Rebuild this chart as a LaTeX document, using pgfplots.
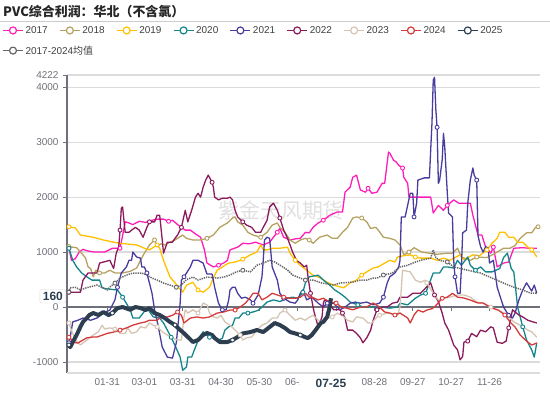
\documentclass[border=0pt]{standalone}
\usepackage{fontspec}
\setmainfont{Liberation Sans}
\newfontfamily\cjk{Noto Sans CJK SC}
\usepackage{pgfplots}
\pgfplotsset{compat=1.18}
\definecolor{c17}{HTML}{FF1DB8}
\definecolor{c18}{HTML}{B5A160}
\definecolor{c19}{HTML}{FFC000}
\definecolor{c20}{HTML}{14868C}
\definecolor{c21}{HTML}{483D9E}
\definecolor{c22}{HTML}{8B1A5C}
\definecolor{c23}{HTML}{D5C4B2}
\definecolor{c24}{HTML}{D63B3B}
\definecolor{c25}{HTML}{2C3E50}
\definecolor{cavg}{HTML}{666666}
\definecolor{axisgray}{HTML}{6E7079}
\definecolor{gridgray}{HTML}{DCDCDC}
\begin{document}
\begin{tikzpicture}
\useasboundingbox (0,0) rectangle (550bp,396bp);
\node[anchor=west, inner sep=0, text=black!85, font=\cjk\bfseries\fontsize{13}{15}\selectfont] at (3bp,384bp) {PVC综合利润：华北（不含氯）};
\draw[black!20, line width=1bp] (0,374bp) -- (550bp,374bp);
\begin{axis}[
  at={(67bp,23bp)}, anchor=south west, scale only axis,
  width=473bp, height=298bp,
  xmin=-1.5, xmax=368.5, ymin=-1200, ymax=4222,
  axis y line*=left, axis x line*=middle,
  hide obscured x ticks=false, hide obscured y ticks=false,
  axis line style={axisgray, line width=1.1bp},
  tick align=outside, major tick length=4bp,
  tick style={axisgray, line width=1bp},
  ytick={-1000,0,1000,2000,3000,4000,4222},
  yticklabels={-1000,0,1000,2000,3000,4000,4222},
  xtick={30,59,89,119,149,179,209,239,269,299,329},
  xticklabels={01-31,03-01,03-31,04-30,05-30,06-29,{},08-28,09-27,10-27,11-26},
  xticklabel style={yshift=-64bp, font=\fontsize{10}{12}\selectfont, text=axisgray},
  yticklabel style={font=\fontsize{10}{12}\selectfont, text=axisgray, xshift=-1bp},
  ymajorgrids, grid style={gridgray, line width=1.2bp},
  clip=false,
  legend columns=9,
  legend cell align=left,
  legend style={at={(axis description cs:-0.137,1.171)}, anchor=north west, draw=none, fill=none,
    font=\fontsize{10}{12}\selectfont, text=black!75, inner sep=0pt,
    /tikz/every even column/.append style={column sep=9.5bp}, row sep=7bp},
  legend image code/.code={%
    \draw[#1, line width=1.2bp, solid, mark=none] (0bp,0bp) -- (6.5bp,0bp);
    \draw[#1, line width=1.2bp, solid, mark=none] (13.5bp,0bp) -- (20bp,0bp);
    \draw[#1, line width=1.2bp, solid, mark=none, fill=white] (10bp,0bp) circle (3.5bp);},
  every axis plot/.append style={line width=1.3bp, line join=round, mark=*, mark size=2bp},
]
\draw[gridgray, line width=1.2bp] (rel axis cs:0,0) -- (rel axis cs:1,0);
\node[text=black!12, font=\cjk\fontsize{21}{23}\selectfont] at (axis cs:166,1764) {紫金天风期货};

\addplot[c17, mark repeat=10, mark options={fill=white, draw=c17, line width=0.9bp}] coordinates {
(0,1080)(1,960)(2,850)(5,880)(8,1000)(11,1050)(15,1020)(20,1000)(28,1000)(34,1070)(40,1070)(42,1300)(44,1550)(47,1530)(50,1500)(55,1560)(60,1540)(65,1580)(70,1600)(74,1600)(78,1560)(81,1580)(85,1500)(91,1400)(95,1400)(99,1330)(103,1270)(106,1040)(108,800)(113,730)(117,760)(121,800)(124,850)(126,1040)(132,1090)(136,1160)(141,1150)(146,1180)(152,1130)(157,1180)(163,1360)(165,1430)(168,1270)(173,1220)(177,1240)(181,1250)(185,1360)(188,1350)(191,1450)(195,1530)(199,1580)(204,1670)(210,1730)(214,1730)(216,2090)(220,2180)(222,2360)(225,2400)(228,2130)(232,2090)(234,2160)(237,2070)(241,2090)(245,2250)(247,2250)(250,2820)(251,2800)(254,2670)(256,2640)(258,2580)(261,2530)(262,2360)(265,2250)(266,2000)(272,2000)(279,2000)(283,2000)(285,1710)(289,1850)(293,1760)(296,1850)(301,1950)(305,1890)(309,1890)(314,1890)(316,1670)(320,1310)(323,1310)(326,1090)(330,980)(332,1090)(335,730)(340,800)(344,820)(348,1070)(355,1080)(360,1070)(366,1070)};
\addlegendentry{2017}

\addplot[c18, mark repeat=10, mark options={fill=white, draw=c18, line width=0.9bp}] coordinates {
(0,1100)(3,1090)(6,1080)(9,1000)(11,950)(13,890)(15,730)(17,700)(19,550)(21,670)(24,620)(28,620)(32,670)(36,620)(42,620)(48,650)(53,710)(56,850)(59,980)(63,1130)(67,1220)(69,1100)(72,1150)(75,1130)(79,1180)(83,1220)(89,1310)(92,1250)(97,1220)(103,1220)(108,1250)(113,1310)(118,1450)(124,1530)(128,1620)(130,1640)(132,1550)(136,1490)(140,1360)(144,1310)(150,1270)(155,1360)(159,1490)(163,1530)(165,1450)(169,1360)(173,1220)(177,1160)(181,1220)(185,1250)(188,1220)(191,1160)(196,1270)(202,1310)(206,1250)(210,1250)(214,1360)(218,1450)(222,1620)(225,1640)(229,1620)(233,1550)(236,1430)(240,1450)(242,1400)(246,1270)(251,1250)(255,1220)(259,1130)(262,950)(266,1000)(270,1080)(276,1000)(282,980)(288,960)(296,980)(300,980)(304,1070)(307,910)(314,850)(319,910)(327,900)(332,960)(340,1070)(345,1070)(349,1120)(353,1250)(358,1350)(362,1350)(365,1450)(367,1460)};
\addlegendentry{2018}

\addplot[c19, mark repeat=10, mark options={fill=white, draw=c19, line width=0.9bp}] coordinates {
(0,1460)(5,1440)(9,1310)(19,1270)(27,1220)(35,1180)(40,1160)(53,1130)(59,1070)(63,1040)(69,1130)(71,1070)(74,850)(77,670)(79,550)(83,440)(86,350)(89,270)(92,400)(97,450)(101,310)(105,270)(110,360)(113,530)(116,670)(119,710)(122,760)(125,800)(130,820)(134,850)(136,870)(142,950)(147,1000)(150,1130)(152,1040)(155,1040)(159,1070)(165,1070)(171,1090)(173,980)(177,850)(181,760)(186,670)(191,580)(197,530)(202,450)(207,400)(215,350)(220,440)(225,490)(229,580)(233,640)(238,710)(242,730)(247,800)(251,850)(255,820)(257,910)(261,930)(267,950)(271,910)(275,890)(283,890)(288,850)(293,890)(298,850)(306,950)(309,860)(316,950)(321,930)(327,1040)(331,1160)(335,1250)(337,1360)(341,1360)(344,1270)(348,1270)(351,1180)(355,1180)(359,1090)(362,1040)(364,980)(366,910)};
\addlegendentry{2019}

\addplot[c20, mark repeat=10, mark options={fill=white, draw=c20, line width=0.9bp}] coordinates {
(0,1070)(3,850)(6,730)(10,620)(14,550)(18,490)(24,490)(26,350)(30,330)(38,310)(42,180)(48,-50)(50,-200)(55,-200)(60,-50)(62,-50)(66,-180)(71,-200)(74,-290)(77,-420)(80,-550)(84,-750)(87,-910)(89,-1150)(92,-1090)(93,-910)(96,-910)(99,-730)(102,-550)(105,-450)(110,-550)(113,-550)(117,-600)(120,-570)(122,-420)(125,-360)(128,-330)(130,-200)(133,-200)(136,-110)(140,-110)(144,-90)(148,-60)(151,0)(155,90)(160,130)(165,100)(171,160)(175,180)(179,160)(183,270)(185,440)(188,550)(195,580)(199,490)(204,400)(208,310)(212,250)(216,180)(220,90)(226,40)(230,0)(236,0)(244,0)(251,-20)(257,0)(259,70)(265,40)(271,160)(275,218)(279,250)(285,620)(290,620)(293,730)(296,730)(301,710)(304,850)(307,760)(312,910)(314,760)(318,670)(322,730)(326,640)(331,640)(337,700)(340,900)(343,980)(346,700)(348,640)(351,0)(355,-360)(358,-600)(362,-780)(364,-910)(366,-650)};
\addlegendentry{2020}

\addplot[c21, mark repeat=10, mark options={fill=white, draw=c21, line width=0.9bp}] coordinates {
(0,-650)(1,-550)(3,-270)(7,-240)(11,-200)(17,-240)(22,-200)(27,-110)(32,-55)(36,130)(38,360)(41,620)(45,730)(47,850)(49,850)(50,1000)(53,910)(56,890)(57,730)(59,730)(61,620)(65,250)(67,-50)(70,-360)(73,-730)(77,-910)(81,-930)(84,-650)(87,70)(88,490)(90,550)(92,620)(95,730)(97,850)(101,850)(105,800)(108,600)(112,600)(114,360)(117,70)(120,-50)(123,-50)(125,130)(126,310)(128,360)(130,360)(132,250)(135,160)(138,180)(142,130)(144,70)(148,220)(151,550)(152,850)(153,1220)(155,1270)(157,1250)(159,730)(163,490)(165,250)(168,160)(173,90)(177,70)(179,130)(181,250)(183,310)(186,130)(190,180)(195,70)(199,0)(202,70)(207,70)(212,-50)(216,0)(220,70)(224,90)(228,70)(233,90)(238,40)(243,70)(246,180)(249,440)(251,550)(255,620)(258,730)(259,850)(260,1640)(263,1640)(267,2070)(269,2070)(270,1640)(272,1890)(273,2310)(278,2350)(282,2350)(283,2860)(284,3350)(285,4130)(286,4180)(287,3600)(288,3270)(289,2250)(290,2310)(292,2680)(293,3160)(294,2910)(296,2070)(297,1710)(300,1640)(301,850)(302,550)(304,250)(306,250)(307,700)(308,1350)(311,1400)(312,1890)(314,2310)(316,2530)(317,2400)(319,2310)(320,1300)(322,1100)(324,1000)(326,1100)(328,1070)(329,800)(332,850)(335,360)(340,0)(344,-150)(347,-200)(349,-110)(352,130)(355,310)(358,440)(362,290)(364,400)(366,250)};
\addlegendentry{2021}

\addplot[c22, mark repeat=10, mark options={fill=white, draw=c22, line width=0.9bp}] coordinates {
(0,270)(9,270)(11,490)(15,620)(22,620)(24,800)(32,850)(35,700)(37,980)(39,1100)(40,1400)(41,1800)(42,1820)(44,1360)(47,1360)(49,1400)(52,1450)(55,1400)(58,1270)(61,1450)(63,1550)(67,1550)(69,1670)(71,1670)(73,1220)(74,980)(77,1180)(81,1180)(83,1250)(85,1310)(88,1450)(91,1760)(93,1550)(96,1760)(99,2000)(101,2070)(103,2000)(105,2180)(107,2310)(109,2400)(112,2270)(113,2180)(114,2000)(117,1950)(120,1980)(124,1980)(126,2000)(128,1950)(130,1760)(132,1640)(136,1550)(139,1490)(143,1450)(146,1360)(150,1360)(152,1450)(155,1580)(157,1820)(160,1890)(163,1760)(165,1620)(168,1400)(171,1250)(173,1130)(175,1000)(178,850)(181,800)(184,730)(186,760)(187,550)(189,250)(191,0)(192,-110)(195,-360)(198,-180)(199,70)(200,130)(203,110)(207,-50)(212,-50)(214,-110)(216,-200)(218,-420)(222,-420)(225,-480)(228,-560)(230,-650)(233,-560)(236,-420)(238,-240)(241,-50)(245,0)(249,0)(253,70)(257,90)(259,180)(265,180)(269,250)(275,250)(283,440)(286,220)(289,100)(292,-110)(294,-290)(297,-420)(301,-690)(304,-780)(306,-960)(308,-900)(309,-640)(312,-620)(315,-480)(319,-540)(322,-420)(326,-450)(330,-360)(332,-380)(335,-640)(339,-660)(342,-620)(344,-380)(347,-50)(349,-90)(352,-145)(355,-180)(359,-240)(363,-270)(366,-290)};
\addlegendentry{2022}

\addplot[c23, mark repeat=10, mark options={fill=white, draw=c23, line width=0.9bp}] coordinates {
(0,-290)(1,-360)(5,-600)(9,-690)(14,-600)(19,-510)(23,-450)(26,-330)(28,-400)(32,-380)(36,-400)(40,-480)(44,-480)(46,-380)(49,-480)(53,-450)(56,-360)(60,-380)(63,-290)(66,-330)(69,-360)(73,-450)(77,-510)(81,-560)(85,-600)(88,-600)(90,-180)(91,-50)(93,-110)(97,-50)(101,-110)(105,73)(108,40)(110,-110)(113,-180)(116,-200)(119,-150)(122,-270)(126,-330)(130,-420)(134,-510)(136,-600)(139,-560)(143,-545)(147,-420)(151,-330)(155,-290)(159,-200)(163,-200)(165,-110)(169,-55)(173,-150)(177,-240)(181,-200)(185,-240)(187,-200)(191,-150)(195,-240)(199,-290)(202,-200)(206,-180)(210,-110)(214,-160)(218,-240)(222,-270)(225,-180)(230,-200)(234,-290)(237,-290)(241,-180)(243,-150)(249,-110)(254,-130)(257,-150)(259,0)(261,670)(267,640)(271,490)(275,450)(279,490)(280,440)(285,250)(289,130)(293,160)(298,180)(304,220)(309,220)(314,180)(319,90)(324,70)(330,0)(335,-50)(340,-110)(344,-180)(348,-270)(353,-330)(359,-420)(362,-450)(366,-550)};
\addlegendentry{2023}

\addplot[c24, mark repeat=10, mark options={fill=white, draw=c24, line width=0.9bp}] coordinates {
(0,-550)(1,-560)(3,-640)(7,-655)(11,-600)(14,-560)(19,-545)(22,-545)(30,-480)(35,-455)(40,-420)(45,-380)(50,-330)(56,-290)(60,-270)(63,-240)(69,-240)(71,-200)(77,-180)(81,-150)(85,-90)(88,-150)(90,-290)(95,-200)(100,-180)(105,-200)(110,-180)(116,-110)(121,-90)(126,-55)(130,-55)(134,0)(138,70)(142,180)(144,250)(148,250)(151,130)(155,180)(159,250)(163,220)(168,180)(173,160)(177,160)(181,180)(185,250)(188,180)(190,180)(195,130)(199,160)(204,90)(209,73)(213,0)(217,-20)(222,-50)(228,0)(233,0)(238,73)(243,0)(247,-90)(251,-110)(255,-145)(259,-109)(265,-200)(267,-290)(270,-145)(273,-55)(277,-91)(280,-55)(284,-30)(286,0)(292,160)(296,180)(300,250)(304,180)(309,164)(314,127)(320,73)(324,73)(331,-20)(336,-55)(341,-145)(345,-270)(349,-364)(353,-509)(359,-640)(362,-690)(366,-655)};
\addlegendentry{2024}

\addplot[c25, line width=4bp, mark repeat=12, mark options={fill=white, draw=c25, line width=0.9bp}] coordinates {
(0,-690)(1,-730)(3,-640)(6,-510)(9,-360)(11,-270)(14,-200)(16,-145)(19,-109)(23,-145)(27,-91)(31,-145)(34,-109)(38,-20)(42,0)(48,-50)(52,0)(56,-18)(60,-55)(63,-20)(67,-109)(71,-145)(75,-200)(79,-270)(83,-327)(87,-418)(89,-455)(93,-545)(97,-636)(101,-600)(105,-509)(108,-473)(112,-509)(114,-564)(118,-636)(124,-636)(128,-600)(132,-545)(136,-480)(142,-455)(147,-418)(152,-455)(157,-364)(161,-291)(165,-327)(169,-382)(173,-455)(177,-480)(181,-509)(185,-550)(187,-564)(190,-509)(193,-418)(197,-291)(199,-270)(202,-180)(204,0)(205,160)};
\addlegendentry{2025}

\addplot[cavg, densely dotted, line width=1.5bp, mark repeat=10, mark options={solid, fill=white, draw=cavg, line width=0.9bp}] coordinates {
(0,270)(1,350)(5,360)(9,310)(13,345)(16,364)(22,400)(27,345)(30,310)(32,364)(36,436)(40,527)(45,582)(50,618)(57,618)(61,582)(65,527)(69,491)(74,436)(79,400)(84,360)(88,400)(92,500)(97,545)(101,491)(108,545)(116,527)(121,545)(126,582)(131,640)(136,670)(142,640)(147,760)(152,800)(157,850)(161,820)(165,764)(171,673)(175,582)(181,527)(185,491)(191,491)(198,436)(207,400)(212,436)(222,454)(228,491)(233,491)(238,527)(241,527)(246,582)(253,618)(259,730)(265,760)(269,800)(275,850)(283,890)(285,1040)(287,900)(290,850)(296,820)(301,730)(312,670)(322,618)(331,527)(340,436)(348,360)(355,310)(361,254)(366,254)};
\addlegendentry{\makebox[0pt][l]{2017-2024{\cjk 均值}}}

\coordinate (lab725) at (axis cs:205,-1200);
\coordinate (lab160) at (axis cs:-1.5,160);
\end{axis}
\node[anchor=north, fill=white, minimum width=62bp, inner ysep=3bp, text=c25, font=\bfseries\fontsize{12}{14}\selectfont, yshift=-3bp] at (lab725) {07-25};
\node[anchor=east, fill=white, draw=black!15, rounded corners=2bp, inner xsep=3bp, inner ysep=2.5bp, text=c25, font=\bfseries\fontsize{12}{14}\selectfont, xshift=-1bp, yshift=2bp] at (lab160) {160};
\end{tikzpicture}
\end{document}
